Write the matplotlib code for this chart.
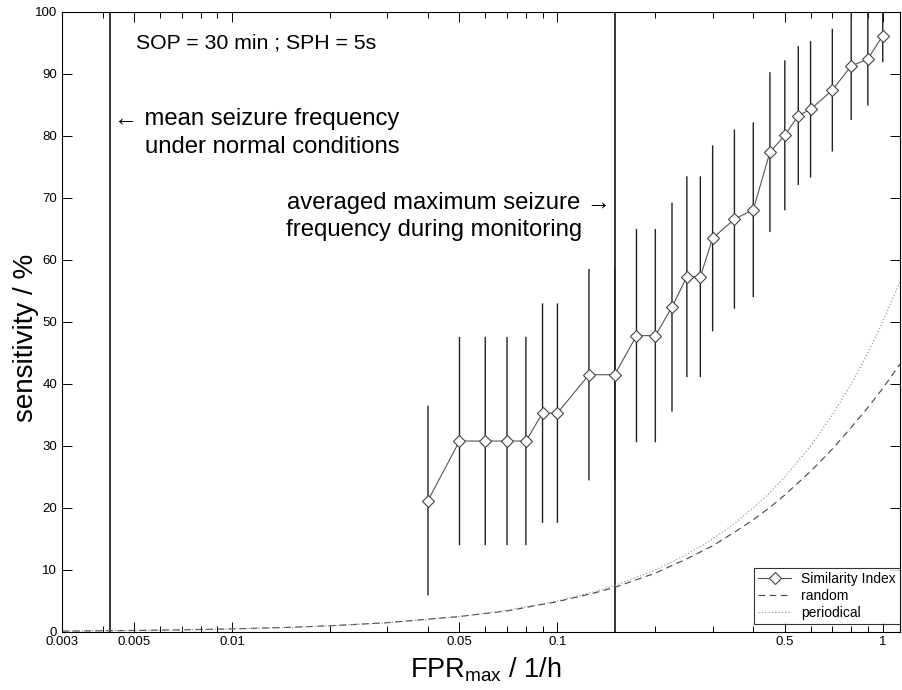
import matplotlib
matplotlib.use("Agg")
import matplotlib.pyplot as plt
from matplotlib.ticker import FixedLocator, FixedFormatter, LogLocator, NullFormatter

plt.rcParams['font.family'] = ['Liberation Sans', 'DejaVu Sans']
plt.rcParams['mathtext.fontset'] = 'custom'
plt.rcParams['mathtext.rm'] = 'Liberation Sans'
plt.rcParams['mathtext.it'] = 'Liberation Sans:italic'

# ---- data ----
fpr = [0.04, 0.05, 0.06, 0.07, 0.08, 0.09, 0.1, 0.125, 0.15, 0.175, 0.2, 0.225,
       0.25, 0.275, 0.3, 0.35, 0.4, 0.45, 0.5, 0.55, 0.6, 0.7, 0.8, 0.9, 1.0]
sens_mean = [21.2, 30.8, 30.8, 30.8, 30.8, 35.3, 35.3, 41.5, 41.5, 47.8, 47.8, 52.4,
             57.3, 57.3, 63.5, 66.6, 68.1, 77.4, 80.1, 83.3, 84.3, 87.4, 91.3, 92.4, 96.2]
sens_std = [15.3, 16.8, 16.8, 16.8, 16.8, 17.7, 17.7, 17.05, 17.05, 17.2, 17.2, 16.85,
            16.2, 16.2, 15.0, 14.45, 14.1, 12.9, 12.1, 11.2, 11.0, 9.9, 8.7, 7.5, 4.3]

ref_x = [0.003, 0.004, 0.005, 0.007, 0.01, 0.015, 0.02, 0.03, 0.05, 0.07, 0.1, 0.13,
         0.15, 0.2, 0.25, 0.3, 0.35, 0.4, 0.45, 0.5, 0.6, 0.7, 0.8, 0.9, 1.0, 1.13]
random_sens = [0.15, 0.2, 0.25, 0.35, 0.5, 0.75, 1.0, 1.5, 2.5, 3.4, 4.9, 6.3,
               7.2, 9.5, 11.8, 13.9, 16.1, 18.1, 20.1, 22.1, 25.9, 29.5, 33.0, 36.2, 39.3, 43.2]
periodic_sens = [0.15, 0.2, 0.25, 0.35, 0.5, 0.75, 1.0, 1.5, 2.5, 3.5, 5.0, 6.5,
                 7.5, 10.0, 12.5, 15.0, 17.5, 20.0, 22.5, 25.0, 30.0, 35.0, 40.0, 45.0, 50.0, 56.5]

vlines_x = [0.0042, 0.15]
xtick_vals = [0.003, 0.005, 0.01, 0.05, 0.1, 0.5, 1]
xtick_labels = ['0.003', '0.005', '0.01', '0.05', '0.1', '0.5', '1']
ytick_vals = [0, 10, 20, 30, 40, 50, 60, 70, 80, 90, 100]

# ---- figure ----
W, H = 902, 690
fig = plt.figure(figsize=(W / 100, H / 100), dpi=100)
ax = fig.add_axes([62 / W, 1 - 632 / H, (900 - 62) / W, (632 - 12) / H])
ax.set_xscale('log')
ax.set_xlim(0.003, 1.13)
ax.set_ylim(0, 100)

for xv in vlines_x:
    ax.axvline(xv, color='black', lw=1.1, zorder=1)

ax.plot(ref_x, random_sens, ls=(0, (6, 4)), color='#444444', lw=0.8, label='random', zorder=2)
ax.plot(ref_x, periodic_sens, ls=(0, (1, 2)), color='#888888', lw=0.8, label='periodical', zorder=2)

eb = ax.errorbar(fpr, sens_mean, yerr=sens_std, fmt='none', ecolor='#222222',
                 elinewidth=1.0, capsize=0, zorder=3)
for c in eb[2]:
    c.set_snap(False)
ax.plot(fpr, sens_mean, color='#555555', lw=0.8, marker='D', markersize=6,
        markerfacecolor='white', markeredgecolor='#444444', markeredgewidth=0.8,
        label='Similarity Index', zorder=4)

# ticks
ax.xaxis.set_major_locator(FixedLocator(xtick_vals))
ax.xaxis.set_major_formatter(FixedFormatter(xtick_labels))
ax.xaxis.set_minor_locator(LogLocator(base=10, subs=range(1, 10), numticks=20))
ax.xaxis.set_minor_formatter(NullFormatter())
ax.set_yticks(ytick_vals)
ax.tick_params(which='both', direction='in', top=True, right=True, labelsize=9.5)
ax.tick_params(which='major', length=7, width=0.7)
ax.tick_params(which='minor', length=4, width=0.7)
ax.tick_params(axis='x', pad=3)
for s in ax.spines.values():
    s.set_linewidth(0.8)

# axis labels (placed in figure pixels to match the reference)
fig.text(486 / W, 13 / H, r'FPR$_{\mathrm{max}}$ / 1/h', fontsize=19.5,
         ha='center', va='baseline')
fig.text(26 / W, 1 - 338 / H, 'sensitivity / %', fontsize=20,
         ha='center', va='center', rotation=90)

# annotations
ax.text(0.00506, 95.0, 'SOP = 30 min ; SPH = 5s', fontsize=15.3, ha='left', va='center')
ax.text(0.00435, 82.7, '\u2190 mean seizure frequency', fontsize=17.2, ha='left', va='center')
ax.text(0.0054, 78.2, 'under normal conditions', fontsize=17.2, ha='left', va='center')
ax.text(0.146, 69.2, 'averaged maximum seizure \u2192', fontsize=17.2, ha='right', va='center')
ax.text(0.119, 64.8, 'frequency during monitoring', fontsize=17.2, ha='right', va='center')

h, l = ax.get_legend_handles_labels()
order = [l.index('Similarity Index'), l.index('random'), l.index('periodical')]
leg = ax.legend([h[i] for i in order], [l[i] for i in order], loc='lower right',
                bbox_to_anchor=(1.0, 8 / 620), borderaxespad=0.0,
                fontsize=10, frameon=True, fancybox=False,
                handlelength=2.4, handletextpad=0.7, labelspacing=0.2,
                borderpad=0.3)
leg.get_frame().set_edgecolor('black')
leg.get_frame().set_linewidth(0.8)

fig.savefig('out.png', dpi=100)
